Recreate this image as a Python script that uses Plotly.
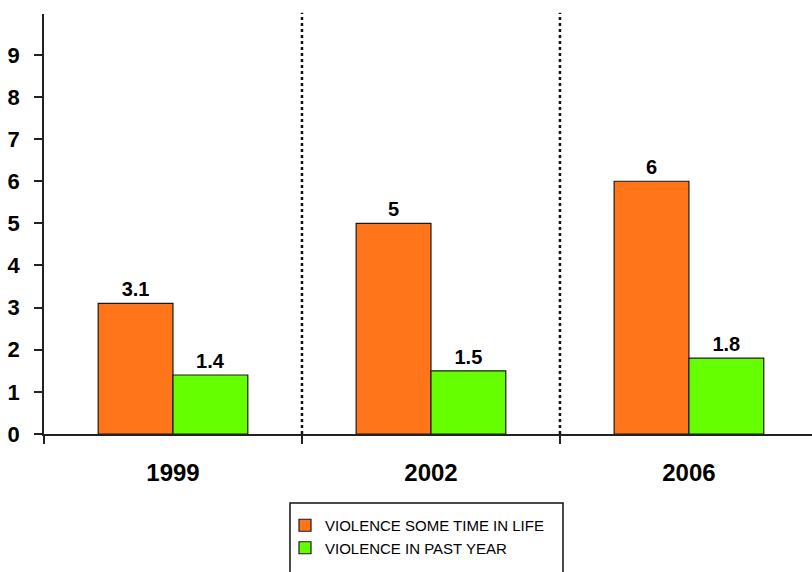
import plotly.graph_objects as go

years = ["1999", "2002", "2006"]
lifetime = [3.1, 5, 6]
past_year = [1.4, 1.5, 1.8]
series_names = ["VIOLENCE SOME TIME IN LIFE", "VIOLENCE IN PAST YEAR"]
y_ticks = [0, 1, 2, 3, 4, 5, 6, 7, 8, 9]

ORANGE = "#FF761A"
GREEN = "#66FF00"
FONT = "Liberation Sans, Arial, sans-serif"

fig = go.Figure()
for name, vals, color in [(series_names[0], lifetime, ORANGE),
                          (series_names[1], past_year, GREEN)]:
    fig.add_trace(go.Bar(
        x=years, y=vals, name=name,
        marker=dict(color=color, line=dict(color="#1a1a1a", width=1.2)),
        text=[f"{v:g}" for v in vals], textposition="outside",
        textfont=dict(family=FONT, size=20, color="black", weight="bold"),
        cliponaxis=False,
    ))

# dotted separators between year groups
for xb in [0.5, 1.5]:
    fig.add_shape(type="line", xref="x", yref="paper", x0=xb, x1=xb,
                  y0=0, y1=1.003, line=dict(color="#111", width=2.5, dash="dot"))

# legend frame
fig.add_shape(type="rect", xref="paper", yref="paper",
              x0=(290 - 44) / 768, x1=(563 - 44) / 768,
              y0=-0.4, y1=(434 - 503) / 420,
              line=dict(color="#111", width=1.5), fillcolor="rgba(0,0,0,0)")

fig.update_layout(
    width=812, height=572,
    margin=dict(l=44, r=0, t=14, b=138),
    paper_bgcolor="white", plot_bgcolor="white",
    barmode="group", bargap=0.42, bargroupgap=0,
    showlegend=True,
    legend=dict(x=(285 - 44) / 768, y=(434 - 509) / 420, xanchor="left", yanchor="top",
                orientation="v", font=dict(family=FONT, size=15, color="black"),
                bgcolor="rgba(0,0,0,0)", borderwidth=0, tracegroupgap=0,
                itemwidth=30),
    font=dict(family=FONT, color="black"),
)
fig.update_xaxes(
    type="category", range=[-0.5, 2.477], tickson="boundaries",
    ticks="outside", ticklen=8, tickcolor="#222", tickwidth=1.5,
    showline=True, linecolor="#222", linewidth=1.5, showgrid=False,
    tickfont=dict(family=FONT, size=24, color="black", weight="bold"),
    ticklabelstandoff=16,
)
fig.update_yaxes(
    range=[0, 9.97], tickvals=y_ticks, ticks="outside", ticklen=8,
    tickcolor="#222", tickwidth=1.5, showline=True, linecolor="#222",
    linewidth=1.5, showgrid=False, zeroline=False,
    tickfont=dict(family=FONT, size=22, color="black", weight="bold"),
    ticklabelstandoff=10,
)

fig.write_html("out.html")
